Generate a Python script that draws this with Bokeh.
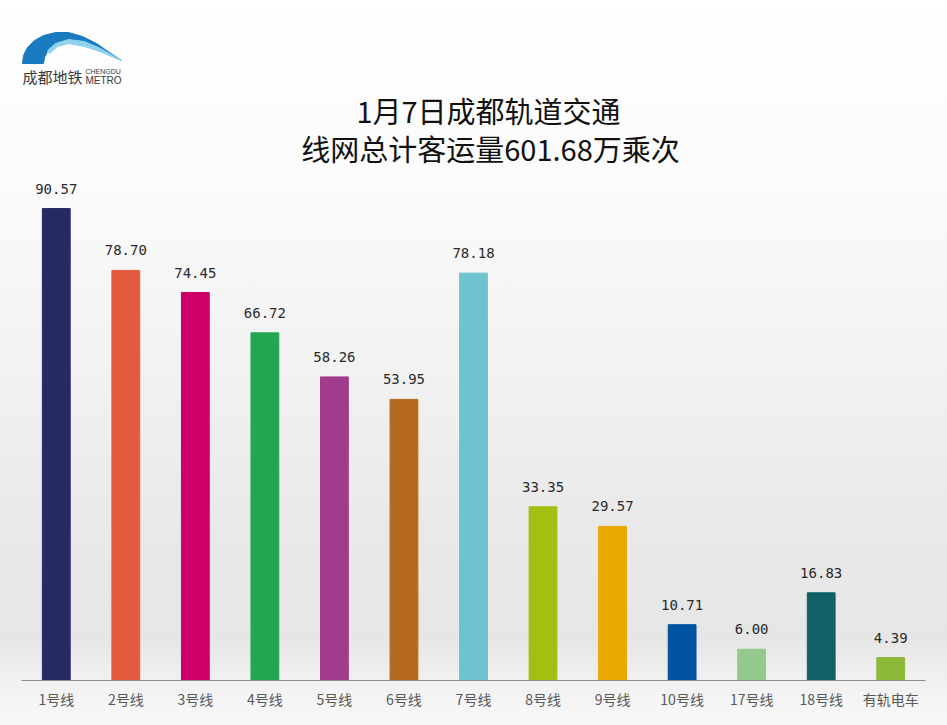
from bokeh.plotting import figure
from bokeh.models import ColumnDataSource, Range1d, LabelSet, Label, FactorRange
from bokeh.core.properties import value
from bokeh.embed import file_html
from bokeh.resources import INLINE

# ---- data ----
lines = ["1号线", "2号线", "3号线", "4号线", "5号线", "6号线", "7号线",
         "8号线", "9号线", "10号线", "17号线", "18号线", "有轨电车"]
riders = [90.57, 78.70, 74.45, 66.72, 58.26, 53.95, 78.18,
          33.35, 29.57, 10.71, 6.00, 16.83, 4.39]
colors = ["#262a63", "#e45a3c", "#cc0066", "#23a650", "#a33b8c", "#b56a1f", "#6fc3d1",
          "#a2c012", "#e9a900", "#0053a0", "#93c98a", "#0f6166", "#8db83a"]
title_line1 = "1月7日成都轨道交通"
title_line2 = "线网总计客运量601.68万乘次"
logo_cn = "成都地铁"
logo_en1 = "CHENGDU"
logo_en2 = "METRO"

FONT = "Noto Sans CJK SC"
W, H = 947, 725
FL, FR, FT, FB = 21, 22, 0, 45
YMAX = 130.5
frame_w = W - FL - FR
frame_h = H - FT - FB


def dx(X):
    return (X - FL) / (frame_w / len(lines))


def dy(Y):
    return (frame_h - (Y - FT)) * YMAX / frame_h


src = ColumnDataSource(dict(line=lines, riders=riders, color=colors,
                            label=["%.2f" % v for v in riders]))

p = figure(x_range=FactorRange(*lines), y_range=Range1d(0, YMAX),
           width=W, height=H, output_backend="svg", toolbar_location=None,
           y_axis_location=None,
           min_border_left=FL, min_border_right=FR,
           min_border_top=FT, min_border_bottom=FB)
p.background_fill_alpha = 0
p.border_fill_alpha = 0
p.outline_line_color = None
p.styles = {"background": "linear-gradient(to bottom, #ffffff 0%, #fbfbfb 25%, #f2f2f2 50%, "
                          "#e9e9e9 72%, #e6e6e6 88%, #f4f4f4 96%, #f8f8f8 100%)"}
p.xgrid.grid_line_color = None
p.ygrid.grid_line_color = None

p.vbar(x="line", top="riders", width=0.4, color="color", source=src)

p.add_layout(LabelSet(x="line", y="riders", text="label", source=src,
                      text_align="center", text_baseline="middle", y_offset=20,
                      text_font=value("DejaVu Sans Mono"), text_font_size="14px",
                      text_color="#2a2a2a"))

ax = p.xaxis[0]
ax.axis_line_color = "#8a8a8a"
ax.axis_line_width = 1
ax.major_tick_line_color = None
ax.minor_tick_line_color = None
ax.major_label_text_font = FONT
ax.major_label_text_font_size = "14px"
ax.major_label_text_color = "#595959"
ax.major_label_standoff = 2

# title
for txt, X, Y in ((title_line1, 488, 109), (title_line2, 490, 147)):
    p.add_layout(Label(x=dx(X), y=dy(Y), text=txt, text_align="center",
                       text_baseline="middle", text_font=FONT,
                       text_font_size="29px", text_color="#111111"))

# logo
outer = [(22, 63), (23, 55), (27, 47), (34, 40), (43, 35), (55, 32), (68, 32), (82, 36),
         (96, 43), (109, 52), (121, 60), (105, 53), (90, 47), (76, 43), (63, 42),
         (53, 45), (47, 51), (44, 57), (43, 63)]
stripe = [(47, 50), (55, 43), (68, 39), (84, 41), (100, 48), (121, 60), (100, 51),
          (84, 46), (68, 43), (57, 46), (49, 53)]
p.patch([dx(a) for a, b in outer], [dy(b) for a, b in outer], color="#1b7bc0")
p.patch([dx(a) for a, b in stripe], [dy(b) for a, b in stripe], color="#8fd3ef")
p.add_layout(Label(x=dx(22), y=dy(76), text=logo_cn, text_align="left", text_baseline="middle",
                   text_font=FONT, text_font_size="15px", text_color="#3a3a3a"))
p.add_layout(Label(x=dx(85), y=dy(71), text=logo_en1, text_align="left", text_baseline="middle",
                   text_font="Liberation Sans", text_font_size="7px", text_color="#3a3a3a"))
p.add_layout(Label(x=dx(85), y=dy(80), text=logo_en2, text_align="left", text_baseline="middle",
                   text_font="Liberation Sans", text_font_size="10px", text_color="#3a3a3a"))

open("out.html", "w").write(file_html(p, INLINE))
